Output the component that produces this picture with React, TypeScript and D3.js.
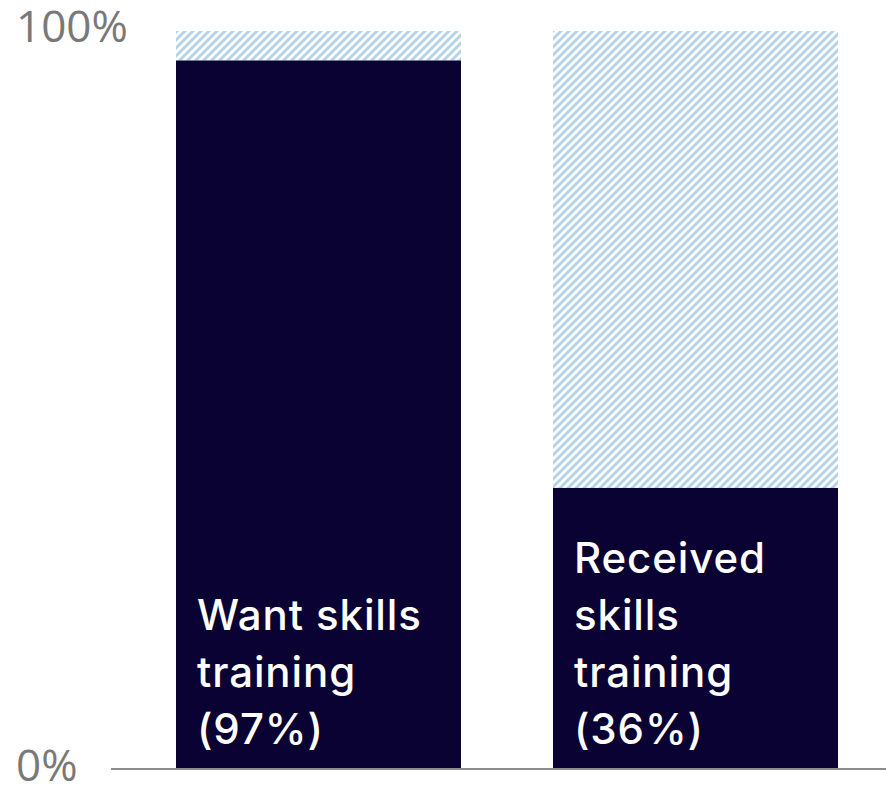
import React from "react";
import * as d3 from "d3";

const categories = ["Want skills training", "Received skills training"];
const values = [96, 38];
const labelLines = [
  ["Want skills", "training", "(97%)"],
  ["Received", "skills", "training", "(36%)"],
];
const tickValues = [0, 100];
const tickLabels = ["0%", "100%"];

const W = 886;
const H = 787;

export default function App() {
  const y = d3.scaleLinear().domain([0, 100]).range([768, 31]);
  const x = d3
    .scaleBand<string>()
    .domain(categories)
    .range([130, 884])
    .paddingInner(0.244)
    .paddingOuter(0.122);
  const bw = x.bandwidth();
  const labelFont = "Inter, 'Open Sans', sans-serif";
  const tickFont = "'Open Sans', 'Noto Sans', sans-serif";
  return (
    <svg
      width={W}
      height={H}
      style={{ position: "absolute", left: 0, top: 0, background: "#fff" }}
    >
      <defs>
        <pattern id="hatch" patternUnits="userSpaceOnUse" width={8} height={8}>
          <rect width={8} height={8} fill="#ffffff" />
          <path
            d="M-2,10 L10,-2 M-6,6 L6,-6 M2,14 L14,2"
            stroke="#b3d4e6"
            strokeWidth={2.9}
          />
        </pattern>
      </defs>
      {categories.map((c, i) => (
        <g key={c}>
          <rect x={x(c)} y={y(100)} width={bw} height={y(values[i]) - y(100)} fill="url(#hatch)" />
          <rect x={x(c)} y={y(values[i])} width={bw} height={y(0) - y(values[i])} fill="#0a0232" />
          {labelLines[i].map((ln, j) => (
            <text
              key={j}
              x={(x(c) as number) + 21}
              y={744 - (labelLines[i].length - 1 - j) * 57}
              fill="#ffffff"
              fontFamily={labelFont}
              fontWeight={500}
              fontSize={42}
              letterSpacing={0.9}
            >
              {ln}
            </text>
          ))}
        </g>
      ))}
      <line x1={111} x2={886} y1={769} y2={769} stroke="#8c8c8c" strokeWidth={2} />
      {tickValues.map((t, i) => (
        <text
          key={t}
          x={16}
          y={t === 100 ? 42 : 781}
          fill="#7b7878"
          fontFamily={tickFont}
          fontSize={44}
        >
          {tickLabels[i]}
        </text>
      ))}
    </svg>
  );
}
